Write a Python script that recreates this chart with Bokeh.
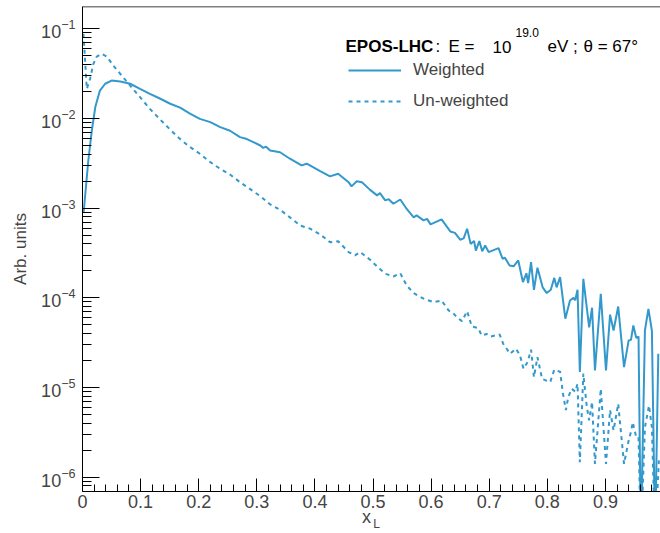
from bokeh.plotting import figure
from bokeh.models import (Range1d, FixedTicker, Label, Legend, LegendItem, Span, LinearAxis)
from bokeh.embed import file_html
from bokeh.resources import INLINE

# ---- data ----
x_weighted = [0.002, 0.010, 0.016, 0.022, 0.030, 0.039, 0.050, 0.065, 0.082, 0.099,
              0.116, 0.134, 0.151, 0.168, 0.185, 0.202, 0.220, 0.237, 0.254, 0.271,
              0.283, 0.294, 0.306, 0.311, 0.316, 0.323, 0.340, 0.357, 0.377, 0.386,
              0.409, 0.426, 0.440, 0.458, 0.463, 0.472, 0.481, 0.495, 0.507, 0.512,
              0.521, 0.527, 0.535, 0.547, 0.558, 0.570, 0.575, 0.587, 0.593, 0.599,
              0.618, 0.633, 0.641, 0.650, 0.656, 0.662, 0.668, 0.674, 0.677, 0.683,
              0.688, 0.693, 0.699, 0.716, 0.723, 0.727, 0.735, 0.742, 0.750, 0.758,
              0.764, 0.767, 0.772, 0.777, 0.783, 0.792, 0.799, 0.806, 0.812, 0.816,
              0.822, 0.831, 0.839, 0.845, 0.848, 0.852, 0.856, 0.862, 0.872, 0.877,
              0.882, 0.892, 0.901, 0.908, 0.914, 0.922, 0.932, 0.940, 0.944, 0.948,
              0.953, 0.957, 0.961, 0.968, 0.974, 0.980, 0.9855, 0.991]
y_weighted = [9.0e-4, 3.4e-3, 7.3e-3, 1.34e-2, 2.05e-2, 2.44e-2, 2.65e-2, 2.58e-2, 2.44e-2, 2.14e-2,
              1.88e-2, 1.66e-2, 1.46e-2, 1.32e-2, 1.13e-2, 9.9e-3, 9.1e-3, 8.0e-3, 7.3e-3, 6.2e-3,
              5.9e-3, 5.45e-3, 5.0e-3, 4.7e-3, 4.85e-3, 4.4e-3, 4.2e-3, 3.56e-3, 3.0e-3, 3.13e-3,
              2.59e-3, 2.26e-3, 2.42e-3, 1.95e-3, 1.75e-3, 2.0e-3, 1.95e-3, 1.6e-3, 1.39e-3, 1.47e-3,
              1.22e-3, 1.26e-3, 1.12e-3, 1.25e-3, 9.8e-4, 7.9e-4, 8.3e-4, 7.3e-4, 7.6e-4, 6.6e-4,
              7.5e-4, 5.5e-4, 5.3e-4, 4.45e-4, 4.6e-4, 5.9e-4, 4.0e-4, 4.3e-4, 3.37e-4, 4.3e-4,
              3.3e-4, 3.84e-4, 3.24e-4, 3.58e-4, 2.73e-4, 2.8e-4, 2.3e-4, 2.25e-4, 2.61e-4, 1.5e-4,
              1.88e-4, 1.46e-4, 2.5e-4, 1.23e-4, 2.17e-4, 1.31e-4, 1.13e-4, 1.23e-4, 1.67e-4, 1.31e-4,
              1.7e-4, 5.85e-5, 9.35e-5, 1.0e-4, 9.4e-5, 1.23e-4, 1.49e-5, 1.63e-4, 4.7e-5, 7.76e-5,
              1.55e-5, 1.11e-4, 1.55e-5, 6.5e-5, 4.33e-5, 8.0e-5, 1.69e-5, 3.35e-5, 3.4e-5, 4.92e-5,
              3.59e-5, 3.7e-5, 2e-7, 4.33e-5, 7.55e-5, 4.3e-5, 2e-7, 2.38e-5]

x_unweighted = [0.0016, 0.0045, 0.0074, 0.013, 0.0188, 0.0246, 0.033, 0.042, 0.053, 0.065,
                0.082, 0.099, 0.116, 0.134, 0.151, 0.168, 0.185, 0.202, 0.220, 0.237,
                0.254, 0.271, 0.288, 0.306, 0.323, 0.340, 0.357, 0.375, 0.392, 0.409,
                0.426, 0.440, 0.458, 0.469, 0.478, 0.495, 0.507, 0.521, 0.535, 0.547,
                0.558, 0.570, 0.587, 0.604, 0.618, 0.630, 0.638, 0.644, 0.653, 0.662,
                0.670, 0.681, 0.687, 0.696, 0.702, 0.718, 0.724, 0.736, 0.746, 0.753,
                0.759, 0.766, 0.772, 0.777, 0.783, 0.791, 0.805, 0.812, 0.822, 0.827,
                0.832, 0.836, 0.842, 0.848, 0.852, 0.856, 0.862, 0.868, 0.872, 0.877,
                0.882, 0.892, 0.901, 0.908, 0.914, 0.922, 0.932, 0.940, 0.944, 0.947,
                0.953, 0.957, 0.961, 0.968, 0.975, 0.980, 0.9855, 0.992]
y_unweighted = [8.8e-2, 4.4e-2, 2.14e-2, 2.77e-2, 4.07e-2, 4.91e-2, 5.26e-2, 4.9e-2, 3.9e-2, 3.15e-2,
                2.33e-2, 1.73e-2, 1.28e-2, 9.7e-3, 7.5e-3, 5.9e-3, 4.8e-3, 4.04e-3, 3.26e-3, 2.75e-3,
                2.37e-3, 1.95e-3, 1.64e-3, 1.36e-3, 1.1e-3, 9.6e-4, 7.9e-4, 6.4e-4, 5.9e-4, 5.1e-4,
                4.18e-4, 4.28e-4, 3.24e-4, 2.97e-4, 3.24e-4, 2.66e-4, 2.24e-4, 1.86e-4, 1.73e-4, 1.88e-4,
                1.37e-4, 1.13e-4, 9.8e-5, 8.95e-5, 9.35e-5, 7.24e-5, 6.76e-5, 6.1e-5, 5.5e-5, 7.1e-5,
                4.8e-5, 4.6e-5, 3.8e-5, 3.96e-5, 3.7e-5, 3.9e-5, 3.08e-5, 2.38e-5, 2.71e-5, 2.28e-5,
                1.62e-5, 1.92e-5, 2.64e-5, 1.31e-5, 2.18e-5, 1.25e-5, 1.15e-5, 1.58e-5, 1.5e-5, 8.5e-6,
                5.6e-6, 7.8e-6, 9.7e-6, 9.0e-6, 1.1e-5, 1.47e-6, 1.43e-5, 6.05e-6, 4.3e-6, 6.9e-6,
                1.41e-6, 9.7e-6, 1.41e-6, 5.6e-6, 3.33e-6, 6.6e-6, 1.41e-6, 2.57e-6, 3.2e-6, 4.1e-6,
                2.8e-6, 2.8e-6, 2e-7, 3.6e-6, 6.3e-6, 3.6e-6, 2e-7, 1.54e-6]

x_ticks = [0.0, 0.1, 0.2, 0.3, 0.4, 0.5, 0.6, 0.7, 0.8, 0.9]
x_tick_labels = ["0", "0.1", "0.2", "0.3", "0.4", "0.5", "0.6", "0.7", "0.8", "0.9"]

COLOR = "#3399cc"
FONT = "Liberation Sans"
Y_TOP = 0.1773
Y_BOTTOM = 6.93e-7
NB = "\u00a0"

p = figure(width=660, height=533, y_axis_type="log",
           x_range=Range1d(0.0, 0.9948), y_range=Range1d(Y_BOTTOM, Y_TOP),
           output_backend="svg", toolbar_location=None,
           min_border_left=82, min_border_right=0, min_border_top=6, min_border_bottom=42)
p.outline_line_color = None
p.grid.visible = False
p.background_fill_color = "white"
p.border_fill_color = "white"

r_w = p.line(x_weighted, y_weighted, line_color=COLOR, line_width=2)
r_u = p.line(x_unweighted, y_unweighted, line_color=COLOR, line_width=2, line_dash="4 4")

# x axis
xa = p.xaxis[0]
minor = [round(i * 0.02, 2) for i in range(0, 50) if i % 5 != 0]
xa.ticker = FixedTicker(ticks=x_ticks, minor_ticks=minor)
xa.major_label_overrides = {t: l for t, l in zip(x_ticks, x_tick_labels)}
xa.major_tick_in = 13
xa.major_tick_out = 0
xa.minor_tick_in = 7
xa.minor_tick_out = 0
xa.major_label_standoff = 3
xa.major_label_text_font = FONT
xa.major_label_text_font_size = "18px"
xa.axis_line_color = "black"
xa.axis_label = "x" + NB + NB
xa.axis_label_text_font = FONT
xa.axis_label_text_font_size = "18px"
xa.axis_label_text_font_style = "normal"
xa.axis_label_standoff = -4

# subscript "L" of the x title, as a bare second axis
xsub = LinearAxis(ticker=FixedTicker(ticks=[]), axis_line_color=None,
                  major_tick_line_color=None, minor_tick_line_color=None,
                  major_label_standoff=0, major_tick_out=0, minor_tick_out=0,
                  major_tick_in=0, minor_tick_in=0,
                  axis_label=NB + NB + NB + "L", axis_label_text_font=FONT,
                  axis_label_text_font_size="12px", axis_label_text_font_style="normal",
                  axis_label_standoff=-13)
p.add_layout(xsub, "below")

# y axis
ya = p.yaxis[0]
ya.major_tick_in = 17
ya.major_tick_out = 0
ya.minor_tick_in = 9
ya.minor_tick_out = 0
ya.major_label_standoff = 7
ya.major_label_text_font = FONT
ya.major_label_text_font_size = "18px"
ya.axis_label = "Arb. units"
ya.axis_label_text_font = FONT
ya.axis_label_text_font_size = "17px"
ya.axis_label_text_font_style = "normal"
ya.axis_label_standoff = 8

# top frame line
p.add_layout(Span(location=Y_TOP, dimension="width", line_color="black", line_width=1.5))

# legend
legend = Legend(items=[LegendItem(label="Weighted", renderers=[r_w]),
                       LegendItem(label="Un-weighted", renderers=[r_u])],
                location=(266, 380), glyph_width=53, glyph_height=20, label_height=20,
                spacing=11, padding=0, margin=0, border_line_color=None,
                background_fill_alpha=0, label_text_font=FONT,
                label_text_font_size="17px", label_standoff=12)
p.add_layout(legend)

def lab(text, x, y, size="17px", style="normal"):
    p.add_layout(Label(x=x, y=y, x_units="screen", y_units="screen", text=text,
                       text_font=FONT, text_font_size=size, text_font_style=style,
                       text_color="black", text_baseline="alphabetic", text_align="left"))

lab("EPOS-LHC", 263, 445, style="bold")
lab(":", 353, 445)
lab("E =", 366, 445)
lab("10", 410, 445)
lab("19.0", 433, 459, size="12px")
lab("eV ;", 465, 445)
lab("\u03b8 = 67\u00b0", 501, 445)

open("out.html", "w").write(file_html(p, INLINE))
